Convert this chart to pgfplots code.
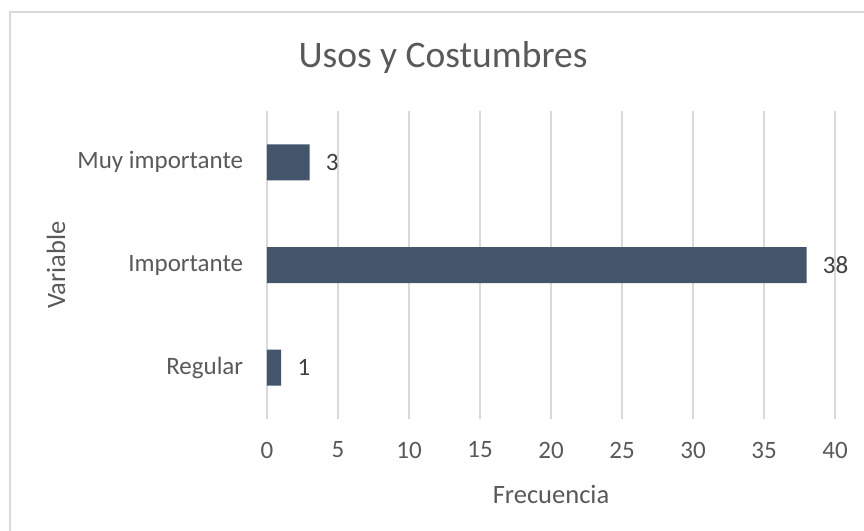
\documentclass[border=0pt]{standalone}
\usepackage{pgfplots}
\pgfplotsset{compat=1.18}
\usepackage{fontspec}
\setmainfont{Carlito}
\definecolor{barc}{HTML}{44546A}
\definecolor{gridc}{HTML}{D9D9D9}
\definecolor{txt}{HTML}{595959}
\definecolor{lab}{HTML}{404040}
\begin{document}
\begin{tikzpicture}
\useasboundingbox (0,0) rectangle (345.6pt,212pt);
\draw[gridc, line width=0.8pt] (4pt,-1pt) -- (4pt,207.2pt) -- (346pt,207.2pt);
\node[txt, font=\fontsize{15}{17}\selectfont] at (177.2pt,189pt) {Usos y Costumbres};
\begin{axis}[
  at={(106.8pt,44.4pt)}, anchor=south west,
  scale only axis, width=227.2pt, height=123.2pt,
  xbar, bar width=14.4pt,
  xmin=0, xmax=40, ymin=-0.5, ymax=2.5,
  enlargelimits=false,
  xtick={0,5,...,40},
  ytick={0,1,2},
  yticklabels={Regular,Importante,Muy importante},
  xmajorgrids, major grid style={gridc, line width=0.8pt},
  axis line style={draw=none},
  major tick length=0pt,
  tick label style={txt, font=\fontsize{10}{12}\selectfont},
  /pgf/number format/assume math mode=true,
  xticklabel style={yshift=-5.6pt},
  yticklabel style={xshift=-6pt},
  xlabel={Frecuencia}, ylabel={Variable},
  label style={txt, font=\fontsize{10.6}{12}\selectfont},
  xlabel style={yshift=-4pt},
  ylabel style={yshift=-2pt},
  nodes near coords,
  every node near coord/.append style={lab, font=\fontsize{10}{12}\selectfont, xshift=3pt},
]
\addplot[fill=barc, draw=none] coordinates {(1,0) (38,1) (3,2)};
\end{axis}
\end{tikzpicture}
\end{document}
